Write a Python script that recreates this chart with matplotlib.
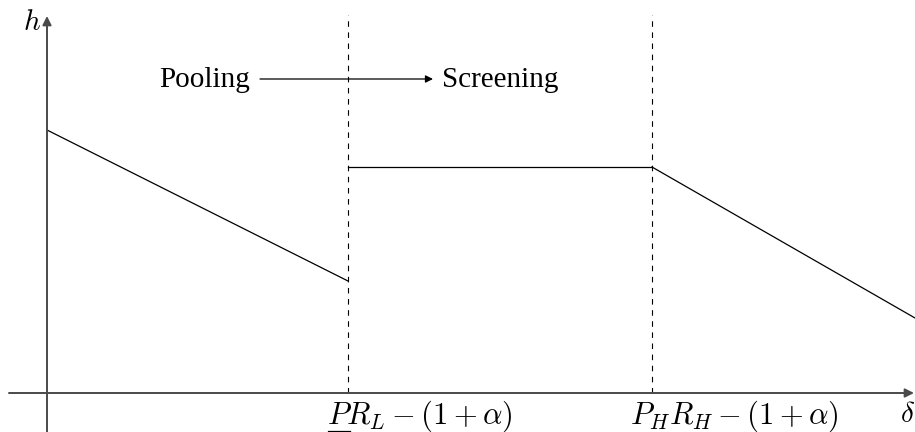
import matplotlib.pyplot as plt

plt.rcParams['font.family'] = ['Liberation Serif', 'DejaVu Serif']
plt.rcParams['mathtext.fontset'] = 'cm'

# thresholds on the delta axis
delta_L = 301
delta_H = 605
delta_max = 868

# h in each region
pool_x = [0, delta_L]
pool_h = [263, 112]
screen_x = [delta_L, delta_H]
screen_h = [226, 226]
high_x = [delta_H, delta_max]
high_h = [226, 75]

tick_pos = [delta_L, delta_H]
tick_labels = [r'$PR_L-(1+\alpha)$', r'$P_HR_H-(1+\alpha)$']
label_left = [280, 583]

fig = plt.figure(figsize=(9.15, 4.32), dpi=100)
ax = fig.add_axes([0, 0, 1, 1])
ax.set_xlim(-47, 868)
ax.set_ylim(-39, 393)
ax.axis('off')

# axes with arrow heads
ax.annotate('', xy=(867, 0), xytext=(-38, 0),
            arrowprops=dict(arrowstyle='-|>', color='#4a4a4a', lw=1.4,
                            mutation_scale=13, shrinkA=0, shrinkB=0))
ax.annotate('', xy=(0, 377), xytext=(0, -39),
            arrowprops=dict(arrowstyle='-|>', color='#4a4a4a', lw=1.4,
                            mutation_scale=13, shrinkA=0, shrinkB=0))
ax.text(-15, 370, r'$h$', fontsize=21, ha='center', va='center')
ax.text(861, -22, r'$\delta$', fontsize=21, ha='center', va='center')

# dashed region boundaries
for x in tick_pos:
    ax.plot([x, x], [0, 378], color='black', lw=0.8, ls=(0, (5, 5)))

ax.plot(pool_x, pool_h, color='black', lw=0.9)
ax.plot(screen_x, screen_h, color='black', lw=0.9)
ax.plot(high_x, high_h, color='black', lw=0.9)

labels = []
for x, lab in zip(label_left, tick_labels):
    labels.append(ax.text(x, -23, lab, fontsize=22, ha='left', va='center'))

# underline the P in the first label
fig.canvas.draw()
r = fig.canvas.get_renderer()
bb = labels[0].get_window_extent(r)
probe = ax.text(0, 0, r'$P$', fontsize=22)
pw = probe.get_window_extent(r).width
probe.remove()
inv = ax.transData.inverted()
x0, y0 = inv.transform((bb.x0, bb.y0))
x1, _ = inv.transform((bb.x0 + pw * 0.92, bb.y0))
ax.plot([x0 + 1, x1], [y0 + 3, y0 + 3], color='black', lw=0.9)

ax.text(158, 313, 'Pooling', fontsize=21, ha='center', va='center')
ax.text(453, 313, 'Screening', fontsize=21, ha='center', va='center')
ax.annotate('', xy=(386, 314), xytext=(213, 314),
            arrowprops=dict(arrowstyle='-|>', color='black', lw=0.9,
                            mutation_scale=11, shrinkA=0, shrinkB=0))

fig.savefig('out.png', dpi=100)
